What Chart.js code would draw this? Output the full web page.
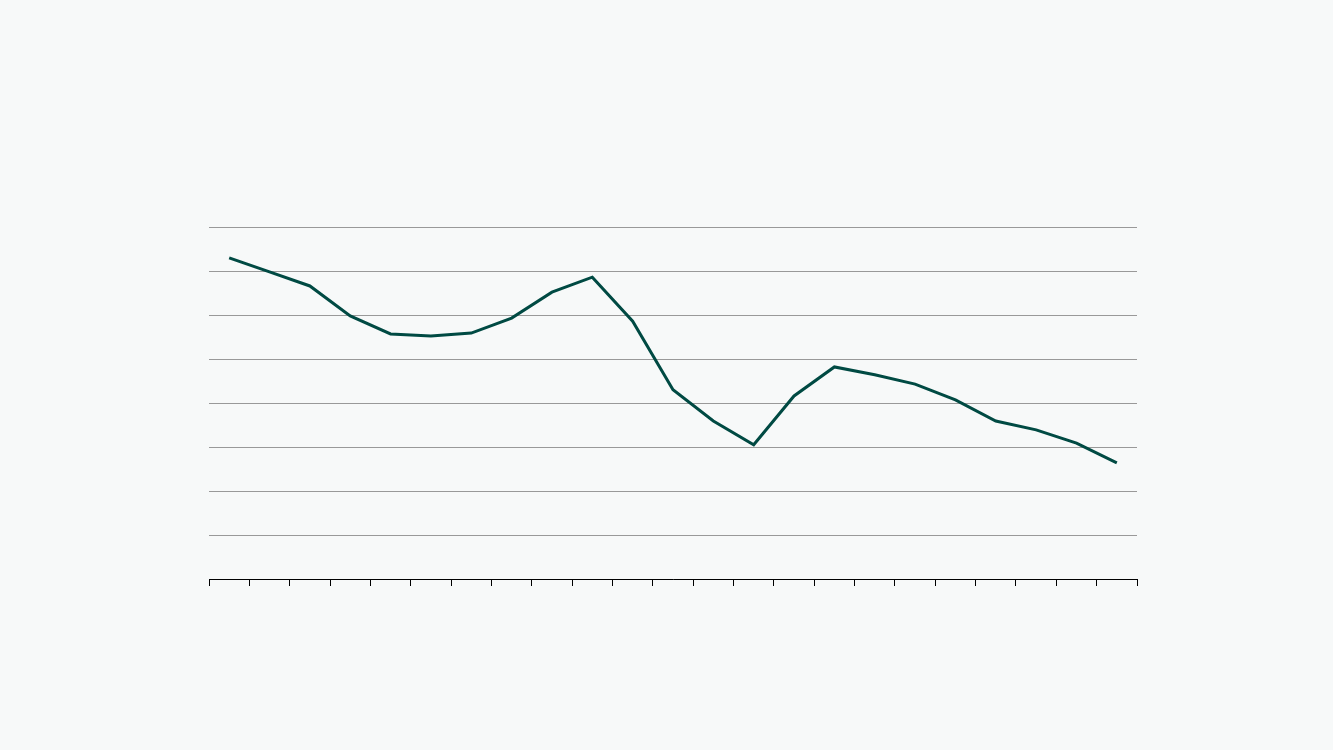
<!DOCTYPE html>
<html>
<head>
<meta charset="utf-8">
<script src="https://cdn.jsdelivr.net/npm/chart.js@4/dist/chart.umd.min.js"></script>
<style>
  html, body { margin: 0; padding: 0; background: #f7f9f9; }
  #wrap { position: relative; width: 1333px; height: 750px; }
</style>
</head>
<body>
<div id="wrap"><canvas id="c"></canvas></div>
<script>
// no labels are shown in the picture, so the categories are just positions
const categories = ['1', '2', '3', '4', '5', '6', '7', '8', '9', '10', '11', '12',
  '13', '14', '15', '16', '17', '18', '19', '20', '21', '22', '23'];
const values = [7.30, 6.98, 6.66, 5.98, 5.57, 5.52, 5.59, 5.93, 6.52, 6.86, 5.86, 4.30,
  3.59, 3.05, 4.16, 4.82, 4.64, 4.43, 4.07, 3.59, 3.39, 3.09, 2.64];
const yMin = 0, yMax = 8, yStep = 1;

new Chart(document.getElementById('c'), {
  type: 'line',
  data: {
    labels: categories,
    datasets: [{
      data: values,
      borderColor: '#004a43',
      borderWidth: 3,
      pointRadius: 0,
      tension: 0,
      fill: false
    }]
  },
  options: {
    responsive: true,
    maintainAspectRatio: false,
    animation: false,
    layout: { padding: { left: 209, right: 196, top: 227, bottom: 164 } },
    plugins: { legend: { display: false }, tooltip: { enabled: false } },
    scales: {
      x: {
        offset: true,
        ticks: { display: false },
        grid: { offset: true, drawOnChartArea: false, drawTicks: true, tickLength: 7, color: '#000', lineWidth: 1 },
        border: { display: true, color: '#000', width: 1 }
      },
      y: {
        min: yMin, max: yMax,
        ticks: { display: false, stepSize: yStep },
        grid: { drawTicks: false, color: '#999', lineWidth: 1 },
        border: { display: false }
      }
    }
  }
});
</script>
</body>
</html>
